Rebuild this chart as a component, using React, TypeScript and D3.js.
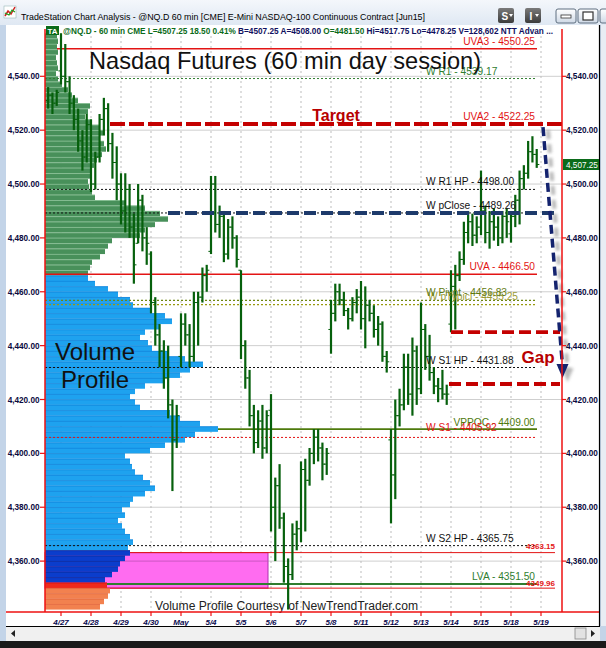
import React from "react";
import * as d3 from "d3";

// ---------- DATA ----------
const dayLabels = ["4/27", "4/28", "4/29", "4/30", "May", "5/4", "5/5", "5/6", "5/7", "5/8", "5/11", "5/12", "5/13", "5/14", "5/15", "5/18", "5/19"];
const yTickValues = [4360, 4380, 4400, 4420, 4440, 4460, 4480, 4500, 4520, 4540];

// hourly bars [open, high, low, close]
const bars0424 = [[4531, 4536, 4528, 4533], [4533, 4534, 4526, 4530], [4530, 4535, 4529, 4534]];
const bars0427 = [[4542, 4556, 4537, 4540], [4540, 4552, 4534, 4538], [4538, 4540, 4526, 4530], [4530, 4533, 4520, 4524], [4524, 4528, 4512, 4516], [4516, 4520, 4505, 4510], [4510, 4526, 4508, 4522]];
const bars0428 = [[4522, 4524, 4497, 4500], [4500, 4512, 4498, 4510], [4510, 4526, 4508, 4524], [4524, 4532, 4518, 4528], [4528, 4530, 4512, 4515], [4515, 4519, 4502, 4508], [4508, 4514, 4494, 4500]];
const bars0429 = [[4500, 4504, 4485, 4490], [4490, 4504, 4482, 4498], [4498, 4500, 4480, 4484], [4484, 4489, 4463, 4470], [4478, 4500, 4478, 4494], [4494, 4496, 4475, 4480], [4480, 4484, 4470, 4478]];
const bars0430 = [[4474, 4475, 4452, 4456], [4456, 4458, 4440, 4444], [4444, 4448, 4432, 4438], [4438, 4442, 4424, 4428], [4428, 4440, 4413, 4418], [4418, 4420, 4386, 4405], [4405, 4418, 4402, 4414]];
const bars0501 = [[4436, 4452, 4432, 4448], [4448, 4452, 4440, 4444], [4444, 4448, 4432, 4436], [4436, 4460, 4434, 4456], [4456, 4460, 4440, 4458], [4458, 4469, 4456, 4466], [4466, 4470, 4460, 4468]];
const bars0504 = [[4475, 4503, 4474, 4500], [4500, 4503, 4482, 4485], [4485, 4492, 4480, 4488], [4488, 4490, 4471, 4474], [4474, 4487, 4472, 4484], [4484, 4488, 4476, 4480], [4480, 4481, 4469, 4472]];
const bars0505 = [[4468, 4468, 4435, 4440], [4440, 4442, 4424, 4428], [4428, 4431, 4410, 4414], [4414, 4418, 4400, 4404], [4404, 4416, 4402, 4412], [4412, 4418, 4398, 4402], [4402, 4416, 4400, 4414]];
const bars0506 = [[4416, 4422, 4371, 4380], [4380, 4391, 4360, 4388], [4388, 4396, 4372, 4376], [4376, 4378, 4352, 4358], [4358, 4361, 4342, 4355], [4355, 4374, 4353, 4370], [4370, 4375, 4364, 4372]];
const bars0507 = [[4372, 4397, 4367, 4394], [4394, 4398, 4371, 4390], [4390, 4402, 4388, 4400], [4400, 4409, 4396, 4406], [4406, 4409, 4397, 4402], [4402, 4404, 4390, 4396], [4396, 4402, 4392, 4400]];
const bars0508 = [[4446, 4457, 4437, 4452], [4452, 4463, 4449, 4460], [4460, 4463, 4455, 4457], [4457, 4460, 4451, 4453], [4453, 4454, 4446, 4450], [4450, 4458, 4449, 4456], [4456, 4461, 4452, 4458]];
const bars0511 = [[4458, 4464, 4446, 4450], [4450, 4462, 4439, 4455], [4455, 4457, 4449, 4452], [4452, 4455, 4443, 4446], [4446, 4451, 4440, 4448], [4448, 4449, 4434, 4436], [4436, 4438, 4430, 4434]];
const bars0512 = [[4405, 4409, 4374, 4392], [4392, 4420, 4383, 4414], [4414, 4424, 4410, 4418], [4418, 4437, 4416, 4432], [4432, 4437, 4418, 4422], [4422, 4443, 4414, 4438], [4438, 4440, 4418, 4424]];
const bars0513 = [[4424, 4456, 4422, 4446], [4446, 4448, 4431, 4436], [4436, 4444, 4427, 4430], [4430, 4432, 4422, 4425], [4425, 4428, 4419, 4424], [4424, 4431, 4420, 4422], [4422, 4425.5, 4418, 4422]];
const bars0514 = [[4448, 4468, 4445, 4462], [4462, 4470, 4446, 4466], [4466, 4475, 4464, 4472], [4472, 4486, 4470, 4482], [4482, 4490, 4478, 4486], [4486, 4489, 4477, 4481], [4481, 4488, 4478, 4484]];
const bars0515 = [[4484, 4505, 4481, 4490], [4490, 4492, 4478, 4482], [4482, 4490, 4476, 4486], [4486, 4491, 4479, 4484], [4484, 4488, 4477, 4480], [4480, 4490, 4478, 4488], [4488, 4491, 4480, 4486]];
const bars0518 = [[4481.5, 4490, 4478.25, 4488], [4488, 4496, 4484, 4494], [4494, 4505, 4485, 4502], [4502, 4507, 4498, 4504], [4504, 4516, 4502, 4512], [4512, 4517.75, 4508, 4511], [4511, 4513, 4506, 4507.25]];
const barDays = [bars0424, bars0427, bars0428, bars0429, bars0430, bars0501, bars0504, bars0505, bars0506, bars0507, bars0508, bars0511, bars0512, bars0513, bars0514, bars0515, bars0518];

// volume profile, 2-point bins from 4554 down
const profileTopPrice = 4554;
const profileStep = 2;
const profileVolume = [
  12, 13, 12, 13, 11, 12, 13, 11, 13, 17, 23, 27, 33, 45, 43, 40, 47, 55, 58, 55,
  59, 61, 57, 52, 49, 45, 47, 43, 44, 47, 50, 80, 100, 115, 123, 110, 100, 95, 67, 63,
  60, 55, 47, 45, 43, 43, 50, 63, 73, 85, 88, 105, 120, 127, 115, 100, 95, 103, 107, 123,
  140, 158, 145, 135, 120, 100, 90, 85, 90, 95, 125, 135, 155, 173, 150, 140, 120, 105, 80, 85,
  87, 90, 98, 105, 110, 100, 88, 85, 77, 80, 73, 77, 80, 85, 88, 83, 85, 80, 75, 73,
  67, 60, 62, 65, 63, 59, 55,
];

const levels = [
  { key: "uva3", value: 4550.25, text: "UVA3 - 4550.25" },
  { key: "wr1", value: 4539.17, text: "W R1 - 4539.17" },
  { key: "uva2", value: 4522.25, text: "UVA2 - 4522.25" },
  { key: "wr1hp", value: 4498.0, text: "W R1 HP - 4498.00" },
  { key: "wpclose", value: 4489.26, text: "W pClose - 4489.26" },
  { key: "uva", value: 4466.5, text: "UVA - 4466.50" },
  { key: "wptyp", value: 4455.25, text: "W pTypicl - 4455.25" },
  { key: "wpivot", value: 4456.83, text: "W Pivot - 4456.83" },
  { key: "ws1hp", value: 4431.88, text: "W S1 HP - 4431.88" },
  { key: "vppoc", value: 4409.0, text: "VPPOC - 4409.00" },
  { key: "ws1", value: 4405.92, text: "W S1 - 4405.92" },
  { key: "ws2hp", value: 4365.75, text: "W S2 HP - 4365.75" },
  { key: "r4363", value: 4363.15, text: "4363.15" },
  { key: "lva", value: 4351.5, text: "LVA - 4351.50" },
  { key: "r4349", value: 4349.96, text: "4349.96" },
];
const targetLevel = 4522.25;
const pCloseLevel = 4489.26;
const gapTop = 4445.0;
const gapBottom = 4425.75;
const arrowEnd = 4428.0;
const lastPrice = 4507.25;

// ---------- STYLES ----------
const RED = "#e31414";
const BLACK = "#111";
type LS = { color: string; dash?: string; w: number; x0: number; x1: number; anchor: "start" | "end"; lx: number; dy: number; fs: number; bold?: boolean; layer: "under" | "over"; lcolor?: string };
const lvlStyle: Record<string, LS> = {
  uva3: { color: RED, w: 1.6, x0: 57, x1: 537, anchor: "end", lx: 535, dy: -4, fs: 10.2, layer: "over" },
  wr1: { color: "#2f7d2f", dash: "2,2", w: 1, x0: 45, x1: 537, anchor: "start", lx: 426, dy: -3.5, fs: 10.2, layer: "over" },
  uva2: { color: RED, w: 0, x0: 0, x1: 0, anchor: "end", lx: 535, dy: -4, fs: 10.2, layer: "over" },
  wr1hp: { color: BLACK, dash: "2,2", w: 1, x0: 45, x1: 537, anchor: "start", lx: 426, dy: -4, fs: 10.2, layer: "over" },
  wpclose: { color: BLACK, dash: "2,2", w: 1, x0: 45, x1: 537, anchor: "start", lx: 426, dy: -3.5, fs: 10.2, layer: "over" },
  uva: { color: RED, w: 1.6, x0: 45, x1: 537, anchor: "end", lx: 535, dy: -4, fs: 10.2, layer: "over" },
  wptyp: { color: "#9a9a10", dash: "2,2", w: 1.2, x0: 45, x1: 537, anchor: "start", lx: 428, dy: -4.5, fs: 10.2, layer: "over", lcolor: "#9b9b35" },
  wpivot: { color: "#6f8612", dash: "2,2", w: 1.2, x0: 45, x1: 537, anchor: "start", lx: 426, dy: -4.5, fs: 10.2, layer: "over", lcolor: "#5f7a10" },
  ws1hp: { color: BLACK, dash: "2,2", w: 1, x0: 45, x1: 537, anchor: "start", lx: 426, dy: -3.5, fs: 10.2, layer: "over" },
  vppoc: { color: "#4e7a0c", w: 1.6, x0: 45, x1: 537, anchor: "end", lx: 535, dy: -3.5, fs: 10.2, layer: "under" },
  ws1: { color: RED, dash: "2,2", w: 1, x0: 45, x1: 537, anchor: "start", lx: 426, dy: -6.5, fs: 10.2, layer: "over" },
  ws2hp: { color: BLACK, dash: "2,2", w: 1, x0: 45, x1: 537, anchor: "start", lx: 426, dy: -4, fs: 10.2, layer: "over" },
  r4363: { color: RED, w: 1, x0: 45, x1: 555, anchor: "end", lx: 555, dy: -3.5, fs: 8, bold: true, layer: "under" },
  lva: { color: "#2f7d2f", w: 2, x0: 45, x1: 537, anchor: "end", lx: 535, dy: -4, fs: 10.2, layer: "under" },
  r4349: { color: RED, w: 1, x0: 45, x1: 555, anchor: "end", lx: 555, dy: -2.5, fs: 8, bold: true, layer: "under" },
};

const FONT = "'Liberation Sans', Arial, sans-serif";

export default function App() {
  const W = 606, H = 648;
  const plotL = 45, plotR = 562, plotT = 29, plotB = 612;
  const y = d3.scaleLinear().domain([4360, 4540]).range([561.1, 76.3]);
  const xDay = d3.scaleLinear().domain([0, 16]).range([61, 541]);
  const xSlot = d3.scaleLinear().domain([0, 7]).range([0, 30]);
  const xVol = d3.scaleLinear().domain([0, 100]).range([plotL, plotL + 100]);

  const profileColor = (mid: number) => {
    if (mid > 4466.5) return ["#48905a", "#92c79d"];
    if (mid > 4363.15) return ["#1ea2ef", "#0f7fd8"];
    if (mid > 4351.5) return ["#0b3dcc", "#082a96"];
    if (mid > 4349.96) return ["#ee2a1c", "#c81010"];
    return ["#f2814f", "#e0603a"];
  };

  const profile = profileVolume.map((v, i) => {
    const p = profileTopPrice - i * profileStep;
    const [fill, sep] = profileColor(p + profileStep / 2);
    const y0 = y(p + profileStep), y1 = y(p);
    return (
      <g key={"pf" + i}>
        <rect x={plotL} y={y0} width={xVol(v) - plotL} height={y1 - y0} fill={fill} />
        <line x1={plotL} x2={xVol(v)} y1={y0 + 0.3} y2={y0 + 0.3} stroke={sep} strokeWidth={0.7} />
      </g>
    );
  });

  const barEls: any[] = [];
  barDays.forEach((day, di) => {
    const k = di - 1;
    const startSlot = di === 0 ? 7 - day.length : 0;
    day.forEach((b, j) => {
      const [o, h, l, c] = b;
      const x = xDay(k) + xSlot(startSlot + j);
      barEls.push(
        <g key={`b${di}-${j}`} stroke="#06600c">
          <line x1={x} x2={x} y1={y(h)} y2={y(l)} strokeWidth={2.2} />
          <line x1={x - 2.6} x2={x} y1={y(o)} y2={y(o)} strokeWidth={1} />
          <line x1={x} x2={x + 2.6} y1={y(c)} y2={y(c)} strokeWidth={1} />
        </g>
      );
    });
  });

  const levelLine = (lv: typeof levels[number]) => {
    const s = lvlStyle[lv.key];
    if (!s.w) return null;
    return <line key={"ll" + lv.key} x1={s.x0} x2={s.x1} y1={y(lv.value)} y2={y(lv.value)} stroke={s.color} strokeWidth={s.w} strokeDasharray={s.dash} />;
  };

  const thick = (key: string, val: number, x0: number, x1: number, color: string, dash: string, w: number) => (
    <g key={key}>
      <line x1={x0} x2={x1} y1={y(val) + 6} y2={y(val) + 6} stroke="#7d7d7d" strokeWidth={5} strokeDasharray={dash} opacity={0.75} filter="url(#blur)" />
      <line x1={x0} x2={x1} y1={y(val)} y2={y(val)} stroke={color} strokeWidth={w} strokeDasharray={dash} />
    </g>
  );

  const arrowX0 = 543, arrowX1 = 562.5;
  const ay0 = y(targetLevel) + 3;
  const ayTip = y(arrowEnd);
  const ay1 = ayTip - 12;

  return (
    <svg width={W} height={H} viewBox={`0 0 ${W} ${H}`} style={{ position: "absolute", left: 0, top: 0, fontFamily: FONT }}>
      <defs>
        <filter id="blur" x="-5%" y="-300%" width="110%" height="700%">
          <feGaussianBlur stdDeviation="1.8" />
        </filter>
        <filter id="blur2" x="-100%" y="-20%" width="300%" height="140%">
          <feGaussianBlur stdDeviation="1.8" />
        </filter>
        <linearGradient id="tbar" x1="0" x2="0" y1="0" y2="1">
          <stop offset="0" stopColor="#f4f7fb" />
          <stop offset="1" stopColor="#dfe8f3" />
        </linearGradient>
        <linearGradient id="btn" x1="0" x2="0" y1="0" y2="1">
          <stop offset="0" stopColor="#7a7a7a" />
          <stop offset="1" stopColor="#3c3c3c" />
        </linearGradient>
        <linearGradient id="wbtn" x1="0" x2="0" y1="0" y2="1">
          <stop offset="0" stopColor="#ffffff" />
          <stop offset="1" stopColor="#cfd9e6" />
        </linearGradient>
      </defs>

      {/* window frame */}
      <rect x={0} y={0} width={W} height={H} fill="#c3d4e8" />
      <rect x={0} y={0} width={W} height={25} fill="url(#tbar)" />
      <g>
        <rect x={4} y={6} width={12} height={12} fill="#fff" stroke="#8aa" strokeWidth={0.5} />
        <polyline points="5,16 8,11 11,14 15,7" fill="none" stroke="#d02020" strokeWidth={1.5} />
        <polyline points="5,13 9,15 12,10 15,12" fill="none" stroke="#20a020" strokeWidth={1.2} />
      </g>
      <text x={21} y={19.5} fontSize={9.8} fill="#000" textLength={404} lengthAdjust="spacingAndGlyphs">
        TradeStation Chart Analysis - @NQ.D 60 min [CME] E-Mini NASDAQ-100 Continuous Contract [Jun15]
      </text>
      {/* S / I buttons */}
      <rect x={498} y={8} width={16} height={15} rx={2} fill="url(#btn)" />
      <text x={501.5} y={20} fontSize={10} fontWeight="bold" fill="#fff">S</text>
      <polygon points="509,14 513,14 511,17" fill="#fff" />
      <rect x={525} y={8} width={16} height={15} rx={2} fill="url(#btn)" />
      <text x={529.5} y={20} fontSize={10} fontWeight="bold" fill="#fff">I</text>
      <polygon points="535,14 539,14 537,17" fill="#fff" />
      <rect x={556} y={9} width={20} height={14} rx={2} fill="url(#wbtn)" stroke="#5f6f80" strokeWidth={1} />
      <rect x={561} y={15} width={10} height={3} fill="#fff" stroke="#333" strokeWidth={0.8} />
      <rect x={578} y={9} width={20} height={14} rx={2} fill="url(#wbtn)" stroke="#5f6f80" strokeWidth={1} />
      <rect x={583} y={12} width={10} height={8} fill="#fff" stroke="#333" strokeWidth={1.2} />
      <rect x={600} y={9} width={10} height={14} rx={2} fill="url(#wbtn)" stroke="#5f6f80" strokeWidth={1} />

      {/* chart white area */}
      <rect x={6} y={25} width={593} height={601} fill="#fff" />
      <line x1={599.5} x2={599.5} y1={25} y2={626} stroke="#000" strokeWidth={1.2} />
      <rect x={601} y={25} width={5} height={601} fill="#e8edf4" />

      {/* grid */}
      {yTickValues.map((v) => (
        <line key={"hg" + v} x1={plotL} x2={plotR} y1={y(v)} y2={y(v)} stroke="#cfcfcf" strokeWidth={1} />
      ))}
      {dayLabels.map((d, k) => (
        <line key={"vg" + d} x1={xDay(k)} x2={xDay(k)} y1={36} y2={plotB} stroke="#bdbdbd" strokeWidth={1} strokeDasharray="2,3" />
      ))}

      {/* magenta value box */}
      <rect x={plotL} y={y(4363.15)} width={268 - plotL} height={y(4349.96) - y(4363.15)} fill="#ff6cf0" stroke="#b02fb0" strokeWidth={1} />
      <line x1={plotL} x2={268} y1={y(4360)} y2={y(4360)} stroke="#c050b8" strokeWidth={0.8} />

      {levels.filter((l) => lvlStyle[l.key].layer === "under").map(levelLine)}

      {/* volume profile */}
      {profile}

      {levels.filter((l) => lvlStyle[l.key].layer === "over").map(levelLine)}

      {/* price bars */}
      {barEls}

      {/* thick annotation lines */}
      {thick("target", targetLevel, 110, 562, "#c40000", "15,4", 4)}
      {thick("pclose", pCloseLevel, 168, 558, "#1d3a6b", "12,5", 4)}
      {thick("gapTop", gapTop, 451, 560, "#c40000", "12,5", 3.8)}
      {thick("gapBot", gapBottom, 449, 560, "#c40000", "12,5", 3.8)}

      {/* arrow */}
      <g>
        <line x1={arrowX0 + 5} x2={arrowX1 + 5} y1={ay0 + 3} y2={ay1 + 3} stroke="#888" strokeWidth={4} strokeDasharray="9,5" opacity={0.6} filter="url(#blur2)" />
        <polygon points={`${arrowX1 - 1},${ay1 + 2} ${arrowX1 + 11},${ay1 + 2} ${arrowX1 + 5},${ayTip + 4}`} fill="#888" opacity={0.6} filter="url(#blur2)" />
        <line x1={arrowX0} x2={arrowX1} y1={ay0} y2={ay1} stroke="#14236e" strokeWidth={3.5} strokeDasharray="9,5" />
        <polygon points={`${arrowX1 - 6},${ay1 - 2} ${arrowX1 + 6},${ay1 - 2} ${arrowX1},${ayTip}`} fill="#14236e" />
      </g>

      {/* level labels */}
      {levels.map((lv) => {
        const s = lvlStyle[lv.key];
        return (
          <text key={"lt" + lv.key} x={s.lx} y={y(lv.value) + s.dy} textAnchor={s.anchor} fontSize={s.fs} fontWeight={s.bold ? "bold" : "normal"} fill={s.lcolor || s.color}>
            {lv.text}
          </text>
        );
      })}

      {/* annotations */}
      <text x={89} y={69} fontSize={23.6} fill="#111">Nasdaq Futures (60 min day session)</text>
      <text x={336} y={121} fontSize={16} fontWeight="bold" fill="#b80000" textAnchor="middle">Target</text>
      <text x={538} y={363} fontSize={17} fontWeight="bold" fill="#b80000" textAnchor="middle">Gap</text>
      <text x={95} y={360} fontSize={24} fill="#111" textAnchor="middle">Volume</text>
      <text x={95} y={388} fontSize={24} fill="#111" textAnchor="middle">Profile</text>
      <text x={155} y={610} fontSize={12} fill="#222" textLength={263} lengthAdjust="spacingAndGlyphs">Volume Profile Courtesy of NewTrendTrader.com</text>

      {/* status line */}
      <rect x={46} y={26} width={13} height={9} fill="#0b6b1a" />
      <text x={47.5} y={33.5} fontSize={8} fontWeight="bold" fill="#fff">TA</text>
      <text x={63} y={34} fontSize={8.6} fontWeight="bold" textLength={490} lengthAdjust="spacingAndGlyphs">
        <tspan fill="#0b6b1a">@NQ.D - 60 min  CME  L=4507.25  18.50  0.41%  </tspan>
        <tspan fill="#101060">B=4507.25  A=4508.00  </tspan>
        <tspan fill="#0b6b1a">O=4481.50  </tspan>
        <tspan fill="#101060">Hi=4517.75  Lo=4478.25  V=128,602  NTT Advan ...</tspan>
      </text>

      {/* axes */}
      <line x1={plotL} x2={plotL} y1={plotT} y2={plotB} stroke="#ee1111" strokeWidth={1.5} />
      <line x1={plotR} x2={plotR} y1={plotT} y2={plotB} stroke="#ee1111" strokeWidth={1.5} />
      <line x1={6} x2={599} y1={plotB} y2={plotB} stroke="#ee1111" strokeWidth={1.5} />
      {yTickValues.map((v) => (
        <g key={"yt" + v}>
          <line x1={40} x2={plotL} y1={y(v)} y2={y(v)} stroke="#ee1111" strokeWidth={1.2} />
          <line x1={plotR} x2={plotR + 4} y1={y(v)} y2={y(v)} stroke="#ee1111" strokeWidth={1.2} />
          <text x={39.5} y={y(v) + 3} fontSize={8.2} fontWeight="bold" fill="#0a0a40" textAnchor="end">{d3.format(",.2f")(v)}</text>
          <text x={566} y={y(v) + 3} fontSize={8.2} fontWeight="bold" fill="#0a0a40">{d3.format(",.2f")(v)}</text>
        </g>
      ))}
      <rect x={563} y={y(lastPrice) - 5.5} width={36} height={11} fill="#0b6b1a" />
      <text x={566} y={y(lastPrice) + 3} fontSize={8.2} fill="#fff">{d3.format(",.2f")(lastPrice)}</text>
      {dayLabels.map((d, k) => (
        <g key={"xt" + d}>
          <line x1={xDay(k)} x2={xDay(k)} y1={plotB} y2={plotB + 4} stroke="#ee1111" strokeWidth={1.2} />
          <text x={xDay(k)} y={625} fontSize={8} fontWeight="bold" fontStyle="italic" fill="#0a0a50" textAnchor="middle">{d}</text>
        </g>
      ))}

      {/* scrollbar */}
      <rect x={6} y={626} width={594} height={15} fill="#f0f0f0" />
      <line x1={6} x2={600} y1={626.5} y2={626.5} stroke="#000" strokeWidth={1} />
      <polygon points="15,630 15,637 11,633.5" fill="#222" />
      <rect x={575} y={628} width={11} height={11} fill="#e2e2e2" stroke="#888" strokeWidth={0.8} />
      <polygon points="591,630 591,637 595,633.5" fill="#222" />
      <rect x={0} y={641} width={W} height={7} fill="#1a1a1a" />
    </svg>
  );
}
